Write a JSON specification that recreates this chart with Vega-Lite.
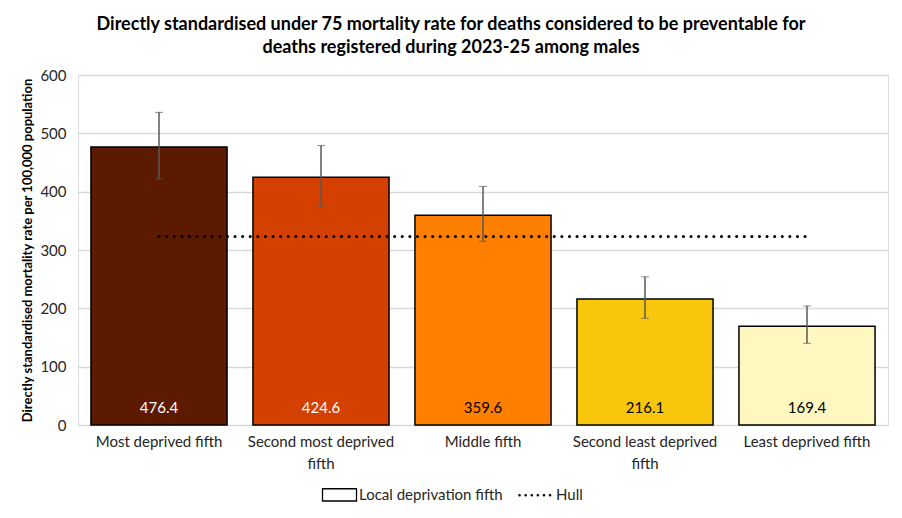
{
  "$schema": "https://vega.github.io/schema/vega-lite/v6.json",
  "width": 810,
  "height": 350,
  "autosize": {"type": "none"},
  "padding": {"left": 78, "top": 75, "right": 14, "bottom": 93},
  "background": "white",
  "title": {
    "text": ["Directly standardised under 75 mortality rate for deaths considered to be preventable for", "deaths registered during 2023-25 among males"],
    "font": "Lato",
    "fontSize": 18,
    "fontWeight": "bold",
    "color": "black",
    "lineHeight": 23,
    "anchor": "middle",
    "frame": "group",
    "dx": -32,
    "offset": 11
  },
  "data": {
    "values": [
      {"group": "Most deprived fifth", "rate": 476.4, "lower": 422, "upper": 536, "hull": 323},
      {"group": "Second most deprived fifth", "rate": 424.6, "lower": 375, "upper": 479, "hull": 323},
      {"group": "Middle fifth", "rate": 359.6, "lower": 315, "upper": 409, "hull": 323},
      {"group": "Second least deprived fifth", "rate": 216.1, "lower": 183, "upper": 254, "hull": 323},
      {"group": "Least deprived fifth", "rate": 169.4, "lower": 140, "upper": 204, "hull": 323}
    ]
  },
  "encoding": {
    "x": {
      "field": "group",
      "type": "nominal",
      "sort": null,
      "scale": {"paddingInner": 0.16, "paddingOuter": 0.08},
      "axis": {
        "title": null,
        "labelAngle": 0,
        "labelFont": "Lato",
        "labelFontSize": 15,
        "labelColor": "#262626",
        "labelPadding": 9,
        "labelLineHeight": 22,
        "labelExpr": "datum.label == 'Second most deprived fifth' ? ['Second most deprived', 'fifth'] : datum.label == 'Second least deprived fifth' ? ['Second least deprived', 'fifth'] : datum.label",
        "domain": false,
        "ticks": false
      }
    }
  },
  "layer": [
    {
      "mark": {"type": "bar", "strokeWidth": 1.5},
      "encoding": {
        "y": {
          "field": "rate",
          "type": "quantitative",
          "title": "Directly standardised mortality rate per 100,000 population",
          "scale": {"domain": [0, 600]},
          "axis": {
            "titleFont": "Lato",
            "titleFontSize": 13,
            "titleFontWeight": "bold",
            "titleColor": "black",
            "titlePadding": 5,
            "values": [0, 100, 200, 300, 400, 500, 600],
            "labelFont": "Lato",
            "labelFontSize": 15,
            "labelColor": "#262626",
            "labelPadding": 12,
            "domain": false,
            "ticks": false,
            "gridColor": "#d9d9d9",
            "gridWidth": 1.5
          }
        },
        "color": {
          "field": "group",
          "type": "nominal",
          "sort": null,
          "scale": {
            "domain": ["Most deprived fifth", "Second most deprived fifth", "Middle fifth", "Second least deprived fifth", "Least deprived fifth"],
            "range": ["#5c1a00", "#d44000", "#ff8000", "#f8c70b", "#fff7c0"]
          },
          "legend": null
        },
        "stroke": {
          "datum": "Local deprivation fifth",
          "scale": {"domain": ["Local deprivation fifth", "Hull"], "range": ["black", "black"]},
          "legend": {
            "title": null,
            "orient": "none",
            "direction": "horizontal",
            "legendX": 254,
            "legendY": 412,
            "labelFont": "Lato",
            "labelFontSize": 15,
            "labelColor": "#262626",
            "labelOffset": 12,
            "columnPadding": 11,
            "symbolSize": 1156,
            "symbolFillColor": "white",
            "encode": {
              "symbols": {
                "update": {
                  "shape": {"signal": "datum.value == 'Hull' ? 'M-1,0H1' : 'M-1,-0.36H1V0.36H-1Z'"},
                  "strokeDash": {"signal": "datum.value == 'Hull' ? [0.1, 6] : [1, 0]"},
                  "strokeWidth": {"signal": "datum.value == 'Hull' ? 2.5 : 1.3"},
                  "strokeCap": {"value": "round"},
                  "fill": {"value": "white"}
                }
              }
            }
          }
        }
      }
    },
    {
      "mark": {"type": "line", "strokeDash": [0.1, 7.5], "strokeCap": "round", "strokeWidth": 3},
      "encoding": {
        "y": {"field": "hull", "type": "quantitative", "title": "Directly standardised mortality rate per 100,000 population"},
        "stroke": {"datum": "Hull"}
      }
    },
    {
      "mark": {"type": "errorbar", "ticks": {"size": 8, "color": "#595959", "strokeWidth": 1.5}, "rule": {"color": "#595959", "strokeWidth": 1.5}},
      "encoding": {
        "y": {"field": "lower", "type": "quantitative", "title": "Directly standardised mortality rate per 100,000 population"},
        "y2": {"field": "upper"}
      }
    },
    {
      "mark": {"type": "text", "font": "Lato", "fontSize": 15, "baseline": "middle", "dy": -17},
      "encoding": {
        "y": {"datum": 0},
        "text": {"field": "rate", "type": "quantitative", "format": ".1f"},
        "color": {
          "condition": {"test": "datum.rate > 400", "value": "white"},
          "value": "black"
        }
      }
    }
  ]
}
